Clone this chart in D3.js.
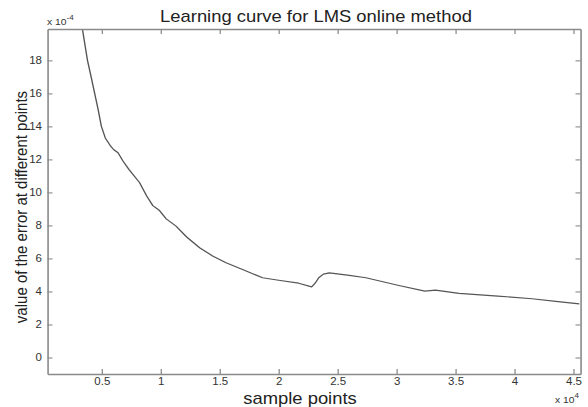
<!DOCTYPE html>
<html>
<head>
<meta charset="utf-8">
<script src="https://cdn.jsdelivr.net/npm/d3@7"></script>
<style>
  html, body { margin: 0; padding: 0; background: #fff; }
  svg { display: block; }
  text { font-family: "Liberation Sans", Arial, Helvetica, sans-serif; }
</style>
</head>
<body>
<svg id="chart"></svg>
<script>
// Sample index (x 10^4) and LMS error (x 10^-4)
const samplePoints = [0.336, 0.379, 0.41, 0.44, 0.47, 0.497, 0.53, 0.576, 0.60, 0.638, 0.68, 0.73, 0.82, 0.88, 0.933, 0.99, 1.047, 1.13, 1.22, 1.33, 1.44, 1.554, 1.694, 1.864, 2.0, 2.17, 2.28, 2.31, 2.34, 2.38, 2.43, 2.6, 2.74, 3.02, 3.24, 3.33, 3.53, 3.86, 4.15, 4.35, 4.55];
const errorValues  = [19.9, 18.0, 17.0, 16.0, 15.0, 14.0, 13.3, 12.8, 12.6, 12.4, 11.9, 11.4, 10.6, 9.8, 9.2, 8.9, 8.4, 7.96, 7.3, 6.65, 6.15, 5.74, 5.33, 4.83, 4.68, 4.5, 4.28, 4.5, 4.83, 5.05, 5.13, 4.97, 4.83, 4.36, 4.02, 4.08, 3.88, 3.72, 3.56, 3.4, 3.25];

const xTicks = [0.5, 1, 1.5, 2, 2.5, 3, 3.5, 4, 4.5];
const xTickLabels = ["0.5", "1", "1.5", "2", "2.5", "3", "3.5", "4", "4.5"];
const yTicks = [0, 2, 4, 6, 8, 10, 12, 14, 16, 18];
const yTickLabels = ["0", "2", "4", "6", "8", "10", "12", "14", "16", "18"];
const xDomain = [0.04, 4.56];
const yDomain = [-1, 19.9];

const titleText = "Learning curve for LMS online method";
const xLabelText = "sample points";
const yLabelText = "value of the error at different points";

// The figure is drawn in a narrower coordinate space and stretched to the window width
const k = 1.15;
const Wpx = 588, H = 407;
const W = Wpx / k;
const h = v => v / k;   // horizontal pixel -> drawing units

const svg = d3.select("#chart")
  .attr("width", Wpx).attr("height", H)
  .attr("viewBox", `0 0 ${W} ${H}`)
  .attr("preserveAspectRatio", "none");

const plotLeft = h(47.5), plotRight = h(580.5), plotTop = 29, plotBottom = 374;

const x = d3.scaleLinear().domain(xDomain).range([plotLeft, plotRight]);
const y = d3.scaleLinear().domain(yDomain).range([plotBottom, plotTop]);

const axisColor = "#8a8a8a";
const textColor = "#333";

// Curve, clipped to the plot box
svg.append("clipPath").attr("id", "plot-clip")
  .append("rect").attr("x", plotLeft).attr("y", plotTop)
  .attr("width", plotRight - plotLeft).attr("height", plotBottom - plotTop);

const data = samplePoints.map((s, i) => [s, errorValues[i]]);
svg.append("path")
  .datum(data)
  .attr("clip-path", "url(#plot-clip)")
  .attr("fill", "none")
  .attr("stroke", "#555")
  .attr("stroke-width", 1.2)
  .attr("stroke-linejoin", "round")
  .attr("d", d3.line().x(d => x(d[0])).y(d => y(d[1])));

// Axes: MATLAB-style box with inward ticks on all four sides
const tickLen = 5;
const xAxisBottom = d3.axisBottom(x).tickValues(xTicks).tickSizeInner(-tickLen).tickSizeOuter(0)
  .tickFormat((d, i) => xTickLabels[i]).tickPadding(4);
const xAxisTop = d3.axisTop(x).tickValues(xTicks).tickSizeInner(-tickLen).tickSizeOuter(0).tickFormat("");
const yAxisLeft = d3.axisLeft(y).tickValues(yTicks).tickSizeInner(-h(tickLen)).tickSizeOuter(0)
  .tickFormat((d, i) => yTickLabels[i]).tickPadding(h(5.5));
const yAxisRight = d3.axisRight(y).tickValues(yTicks).tickSizeInner(-h(tickLen)).tickSizeOuter(0).tickFormat("");

function styleAxis(g) {
  g.selectAll("path").attr("stroke", axisColor).attr("stroke-width", 1.4);
  g.selectAll("line").attr("stroke", axisColor).attr("stroke-width", 1.1);
  g.selectAll("text").attr("fill", textColor).attr("font-size", 10)
    .attr("font-family", "'Liberation Sans', Arial, sans-serif");
}

svg.append("g").attr("transform", `translate(0,${plotBottom})`).call(xAxisBottom).call(styleAxis);
svg.append("g").attr("transform", `translate(0,${plotTop})`).call(xAxisTop).call(styleAxis);
svg.append("g").attr("transform", `translate(${plotLeft},0)`).call(yAxisLeft).call(styleAxis);
svg.append("g").attr("transform", `translate(${plotRight},0)`).call(yAxisRight).call(styleAxis);

// Title
svg.append("text")
  .attr("x", h(316)).attr("y", 22)
  .attr("text-anchor", "middle")
  .attr("font-size", 16).attr("fill", "#222")
  .text(titleText);

// Axis labels
svg.append("text")
  .attr("x", h(300)).attr("y", 404)
  .attr("text-anchor", "middle")
  .attr("font-size", 16).attr("fill", "#222")
  .text(xLabelText);

svg.append("text")
  .attr("transform", `translate(${h(27)},207) rotate(-90)`)
  .attr("text-anchor", "middle")
  .attr("font-size", 15).attr("fill", "#222")
  .text(yLabelText);

// Exponent multipliers
const yExp = svg.append("text").attr("x", h(47)).attr("y", 25)
  .attr("font-size", 9).attr("fill", textColor);
yExp.append("tspan").text("x 10");
yExp.append("tspan").attr("dy", -5).attr("font-size", 7).text("-4");

const xExp = svg.append("text").attr("x", h(555)).attr("y", 403)
  .attr("font-size", 9).attr("fill", textColor);
xExp.append("tspan").text("x 10");
xExp.append("tspan").attr("dy", -5).attr("font-size", 7).text("4");
</script>
</body>
</html>
